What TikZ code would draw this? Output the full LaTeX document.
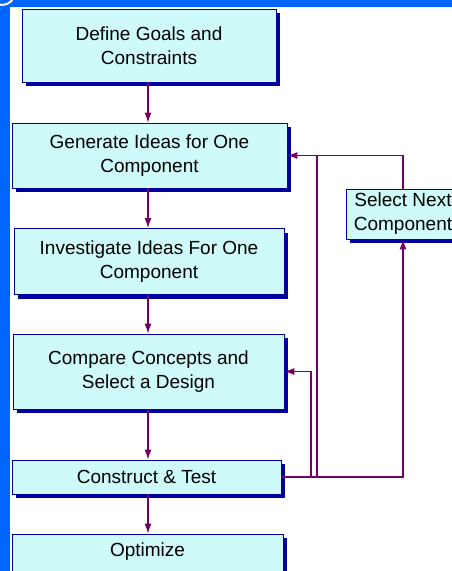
\documentclass[tikz,border=0pt]{standalone}
\usepackage{fontspec}
\setmainfont{Liberation Sans}
\usetikzlibrary{arrows.meta,shadows}
\definecolor{framebl}{RGB}{0,102,255}
\definecolor{boxfill}{RGB}{206,250,250}
\definecolor{boxline}{RGB}{0,0,160}
\definecolor{flow}{RGB}{118,0,100}
\tikzset{
  stage/.style={draw=boxline, fill=boxfill, line width=0.8pt, align=center,
    inner sep=0pt, font=\fontsize{19}{24}\selectfont,
    drop shadow={shadow xshift=4pt, shadow yshift=-4pt, fill=boxline, opacity=1}},
  flowline/.style={draw=flow, line width=1.1pt},
  flowarr/.style={flowline, -{Latex[length=10pt,width=7pt]}}
}
\begin{document}
\begin{tikzpicture}[x=1pt,y=-1pt]
      \useasboundingbox (0,0) rectangle (452,571);
      \clip (0,0) rectangle (452,571);
      \fill[white] (0,0) rectangle (452,571);
      \fill[framebl] (0,0) rectangle (10,571);
      \fill[framebl] (0,0) rectangle (452,7);
      \draw[white, line width=2pt] (2,-8) circle (13);
      \draw
        (149,45.5) node[stage, minimum width=254pt, minimum height=73pt] (goals){Define Goals and\\Constraints}
        (149.5,155.5) node[stage, minimum width=275pt, minimum height=65pt] (generate){Generate Ideas for One\\Component}
        (149,261.5) node[stage, minimum width=270pt, minimum height=66pt] (investigate){Investigate Ideas For One\\Component}
        (148.5,371.5) node[stage, minimum width=271pt, minimum height=75pt] (compare){Compare Concepts and\\Select a Design}
        (146.5,477) node[stage, minimum width=269pt, minimum height=34pt] (construct){Construct \& Test}
        (147.5,559) node[stage, minimum width=271pt, minimum height=50pt, text depth=18pt] (optimize){Optimize}
        (403,214) node[stage, minimum width=114pt, minimum height=50pt] (select){Select Next\\Component};
      \coordinate (riser) at (317,477);
      \coordinate (backstep) at (311,477);
      \begin{scope}[flowarr]
        \draw (goals.south -| 148,0) -- (148,0 |- generate.north);
        \draw (generate.south -| 148,0) -- (148,0 |- investigate.north);
        \draw (investigate.south -| 148,0) -- (148,0 |- compare.north);
        \draw (compare.south -| 148,0) -- (148,0 |- construct.north);
        \draw (construct.south -| 148,0) -- (148,0 |- optimize.north);
        \draw (construct.east) -| (select.south);
        \draw (select.north) |- (generate.east);
        \draw (backstep) |- (compare.east);
      \end{scope}
      \draw[flowline] (riser) -- (riser |- generate.east);
    \end{tikzpicture}
\end{document}
